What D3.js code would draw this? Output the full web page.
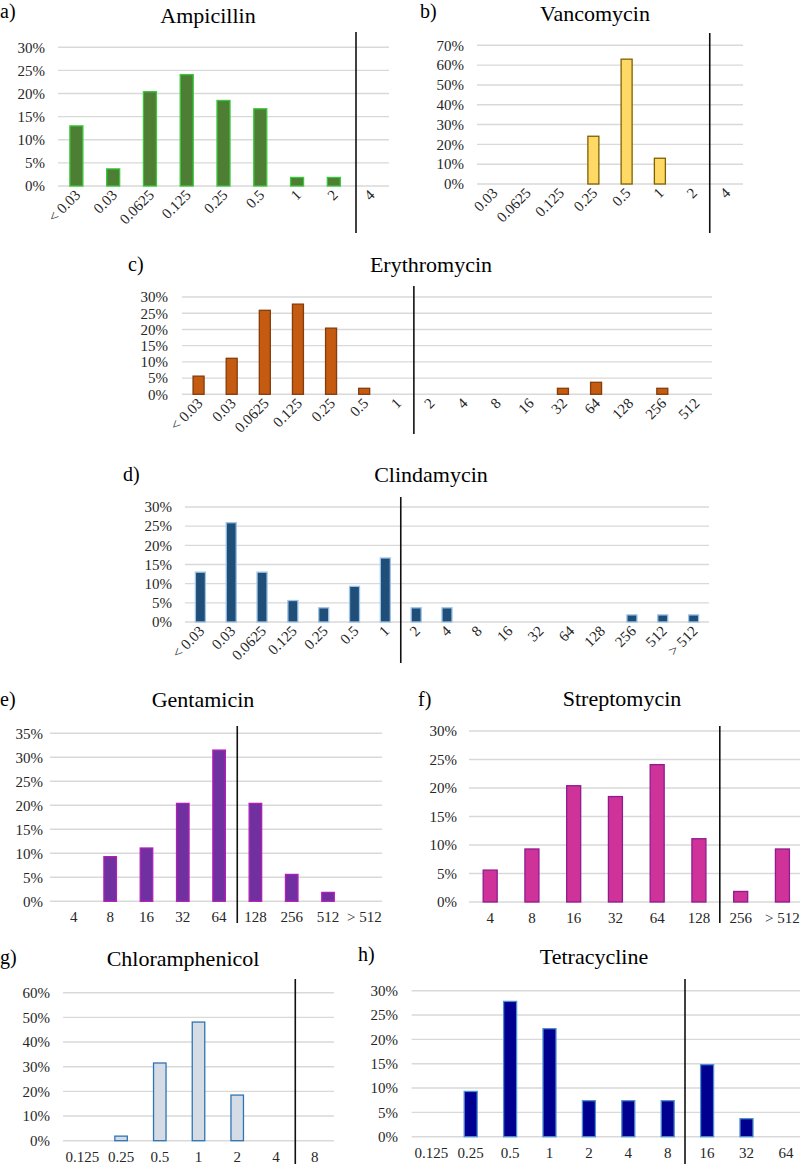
<!DOCTYPE html>
<html>
<head>
<meta charset="utf-8">
<script src="https://cdn.jsdelivr.net/npm/d3@7"></script>
<style>
  body { margin: 0; background: #fff; }
</style>
</head>
<body>
<svg id="chart"></svg>
<script>
// MIC categories and % of isolates for each antibiotic
const ampCats = ["< 0.03", "0.03", "0.0625", "0.125", "0.25", "0.5", "1", "2", "4"];
const ampVals = [13.0, 3.7, 20.4, 24.1, 18.5, 16.7, 1.85, 1.85, 0];

const vanCats = ["0.03", "0.0625", "0.125", "0.25", "0.5", "1", "2", "4"];
const vanVals = [0, 0, 0, 24.1, 63.0, 13.0, 0, 0];

const eryCats = ["< 0.03", "0.03", "0.0625", "0.125", "0.25", "0.5", "1", "2", "4", "8", "16", "32", "64", "128", "256", "512"];
const eryVals = [5.6, 11.1, 25.9, 27.8, 20.4, 1.85, 0, 0, 0, 0, 0, 1.85, 3.7, 0, 1.85, 0];

const cliCats = ["< 0.03", "0.03", "0.0625", "0.125", "0.25", "0.5", "1", "2", "4", "8", "16", "32", "64", "128", "256", "512", "> 512"];
const cliVals = [13.0, 25.9, 13.0, 5.6, 3.7, 9.3, 16.7, 3.7, 3.7, 0, 0, 0, 0, 0, 1.85, 1.85, 1.85];

const genCats = ["4", "8", "16", "32", "64", "128", "256", "512", "> 512"];
const genVals = [0, 9.3, 11.1, 20.4, 31.5, 20.4, 5.6, 1.85, 0];

const strCats = ["4", "8", "16", "32", "64", "128", "256", "> 512"];
const strVals = [5.6, 9.3, 20.4, 18.5, 24.1, 11.1, 1.85, 9.3];

const chlCats = ["0.125", "0.25", "0.5", "1", "2", "4", "8"];
const chlVals = [0, 1.85, 31.5, 48.1, 18.5, 0, 0];

const tetCats = ["0.125", "0.25", "0.5", "1", "2", "4", "8", "16", "32", "64"];
const tetVals = [0, 9.3, 27.8, 22.2, 7.4, 7.4, 7.4, 14.8, 3.7, 0];

// y ticks per panel
const ticks30 = [0, 5, 10, 15, 20, 25, 30];
const ticks35 = [0, 5, 10, 15, 20, 25, 30, 35];
const ticks60 = [0, 10, 20, 30, 40, 50, 60];
const ticks70 = [0, 10, 20, 30, 40, 50, 60, 70];

const FONT = "'Liberation Serif', 'DejaVu Serif', serif";

const svg = d3.select("#chart")
  .attr("width", 800).attr("height", 1164)
  .attr("font-family", FONT);

const panels = [
  { tag: "a)", title: "Ampicillin", cats: ampCats, vals: ampVals, ticks: ticks30,
    x0: 58, x1: 389, gx0: 58, gx1: 389, yTop: 47.3, yBot: 186, labX: 45,
    tx: 208, ty: 23, tagX: 0, tagY: 18, cut: 8, lineX: 356, lineTop: 32, lineBot: 233,
    fill: "#4e7e33", stroke: "#38c83a", bw: 13, rotate: true },
  { tag: "b)", title: "Vancomycin", cats: vanCats, vals: vanVals, ticks: ticks70,
    x0: 477, x1: 743, gx0: 477, gx1: 743, yTop: 45.3, yBot: 184, labX: 464,
    tx: 595, ty: 21, tagX: 420, tagY: 18, cut: 7, lineTop: 33, lineBot: 233,
    fill: "#ffd966", stroke: "#7f6000", bw: 11, rotate: true },
  { tag: "c)", title: "Erythromycin", cats: eryCats, vals: eryVals, ticks: ticks30,
    x0: 182, x1: 712, gx0: 182, gx1: 712, yTop: 297, yBot: 394.3, labX: 168,
    tx: 431, ty: 272, tagX: 128, tagY: 271, cut: 7, lineTop: 286, lineBot: 434,
    fill: "#c55a11", stroke: "#843c0c", bw: 11, rotate: true },
  { tag: "d)", title: "Clindamycin", cats: cliCats, vals: cliVals, ticks: ticks30,
    x0: 185, x1: 709, gx0: 185, gx1: 709, yTop: 507, yBot: 622, labX: 172,
    tx: 431, ty: 482, tagX: 123, tagY: 481, cut: 7, lineTop: 497, lineBot: 663,
    fill: "#1f4e79", stroke: "#9dc3e6", bw: 10, rotate: true },
  { tag: "e)", title: "Gentamicin", cats: genCats, vals: genVals, ticks: ticks35,
    x0: 55.7, x1: 382.5, gx0: 50, gx1: 382, yTop: 733.3, yBot: 901.3, labX: 43,
    tx: 203, ty: 707, tagX: 0, tagY: 706, cut: 5, lineTop: 726, lineBot: 923,
    fill: "#7030a0", stroke: "#b21fb8", bw: 12.5, rotate: false },
  { tag: "f)", title: "Streptomycin", cats: strCats, vals: strVals, ticks: ticks30,
    x0: 469.3, x1: 803.3, gx0: 469, gx1: 800, yTop: 731, yBot: 902, labX: 457,
    tx: 622, ty: 706, tagX: 418, tagY: 706, cut: 6, lineTop: 726, lineBot: 923,
    fill: "#cf3399", stroke: "#8e1c8e", bw: 14, rotate: false },
  { tag: "g)", title: "Chloramphenicol", cats: chlCats, vals: chlVals, ticks: ticks60,
    x0: 63, x1: 334, gx0: 63, gx1: 334, yTop: 992.7, yBot: 1140.7, labX: 50,
    tx: 183, ty: 966, tagX: 0, tagY: 964, cut: 6, lineTop: 979, lineBot: 1164,
    fill: "#d6dce5", stroke: "#2e75b6", bw: 12.5, rotate: false },
  { tag: "h)", title: "Tetracycline", cats: tetCats, vals: tetVals, ticks: ticks30,
    x0: 411.6, x1: 805.6, gx0: 411.6, gx1: 800, yTop: 990.7, yBot: 1136.7, labX: 398,
    tx: 594, ty: 964, tagX: 358, tagY: 961, cut: 7, lineX: 685, lineTop: 979, lineBot: 1164,
    fill: "#000090", stroke: "#4f8fd0", bw: 13, rotate: false }
];

panels.forEach(p => {
  const g = svg.append("g");
  const x = d3.scaleBand().domain(p.cats).range([p.x0, p.x1]).padding(0);
  const y = d3.scaleLinear().domain([0, d3.max(p.ticks)]).range([p.yBot, p.yTop]);

  // gridlines
  g.append("g").selectAll("line")
    .data(p.ticks)
    .join("line")
    .attr("x1", p.gx0).attr("x2", p.gx1)
    .attr("y1", d => y(d)).attr("y2", d => y(d))
    .attr("stroke", "#d9d9d9")
    .attr("stroke-width", 1.4);

  // y axis labels
  const yAxis = g.append("g")
    .attr("transform", `translate(${p.labX},0)`)
    .call(d3.axisLeft(y).tickValues(p.ticks).tickFormat(d => d + "%").tickSize(0).tickPadding(0));
  yAxis.attr("font-family", FONT).attr("font-size", 15);
  yAxis.select(".domain").remove();
  yAxis.selectAll("text").attr("fill", "#262626");

  // bars
  g.append("g").selectAll("rect")
    .data(p.cats.map((c, i) => ({ c: c, v: p.vals[i] })).filter(d => d.v > 0))
    .join("rect")
    .attr("x", d => x(d.c) + x.bandwidth() / 2 - p.bw / 2)
    .attr("width", p.bw)
    .attr("y", d => y(d.v))
    .attr("height", d => y(0) - y(d.v))
    .attr("fill", p.fill)
    .attr("stroke", p.stroke)
    .attr("stroke-width", 1.3);

  // x labels
  const xl = g.append("g").selectAll("text")
    .data(p.cats)
    .join("text")
    .attr("font-size", 15)
    .attr("fill", "#262626")
    .text(d => d);
  if (p.rotate) {
    xl.attr("text-anchor", "end")
      .attr("transform", d => `translate(${x(d) + x.bandwidth() / 2 + 5},${p.yBot + 10}) rotate(-45)`);
  } else {
    xl.attr("text-anchor", "middle")
      .attr("x", d => x(d) + x.bandwidth() / 2)
      .attr("y", p.yBot + 21);
  }

  // breakpoint line
  const lx = p.lineX !== undefined ? p.lineX : x(p.cats[p.cut]);
  g.append("line")
    .attr("x1", lx).attr("x2", lx)
    .attr("y1", p.lineTop).attr("y2", p.lineBot)
    .attr("stroke", "#111")
    .attr("stroke-width", 1.6);

  // titles
  g.append("text")
    .attr("x", p.tx).attr("y", p.ty)
    .attr("text-anchor", "middle")
    .attr("font-size", 22)
    .attr("fill", "#000")
    .text(p.title);
  g.append("text")
    .attr("x", p.tagX).attr("y", p.tagY)
    .attr("font-size", 20)
    .attr("fill", "#000")
    .text(p.tag);
});
</script>
</body>
</html>
